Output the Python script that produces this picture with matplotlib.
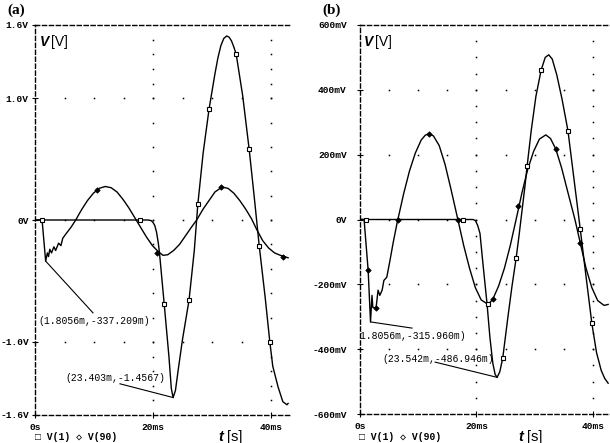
import matplotlib
matplotlib.use('Agg')
import matplotlib.pyplot as plt
import numpy as np

# ---------------- data (time in ms, voltage in V for (a), mV for (b)) -------------
# Panel (a)
t_v1_a = [0, 17.8, 19.2, 19.7, 20.0, 20.3, 20.6, 20.9, 21.1, 21.9, 22.7, 23.1, 23.403, 23.8,
          24.3, 25.0, 26.1, 27.0, 27.6, 28.5, 29.5, 30.5, 31.0, 31.5, 32.0, 32.5, 32.9, 33.3,
          33.7, 34.1, 35.2, 36.3, 37.2, 38.0, 39.0, 39.8, 40.3, 41.2, 42.0, 42.7, 42.9]
v_v1_a = [0, 0, 0, -0.005, -0.02, -0.045, -0.10, -0.19, -0.27, -0.69, -1.12, -1.38, -1.4567,
          -1.40, -1.22, -0.98, -0.66, -0.25, 0.13, 0.55, 0.91, 1.20, 1.33, 1.43, 1.49, 1.51,
          1.50, 1.47, 1.42, 1.36, 1.02, 0.58, 0.17, -0.21, -0.63, -1.0, -1.2, -1.37, -1.49,
          -1.516, -1.505]
t_v90_a = [0, 1.2, 1.8056, 2.1, 2.3, 2.5, 2.8, 3.2, 3.5, 4.0, 4.4, 4.7, 5.3, 6.1, 6.9,
           7.9, 8.9, 9.9, 10.9, 11.9, 12.9, 13.9, 14.9, 15.9, 16.9, 17.9, 18.9, 19.9,
           20.9, 21.7, 22.5, 23.5, 24.5, 25.5, 26.5, 27.4, 28.5, 29.5, 30.5, 31.7, 32.7,
           33.7, 34.7, 35.7, 36.7, 37.6, 38.6, 39.6, 40.6, 41.6, 42.9]
v_v90_a = [0, 0, -0.337209, -0.27, -0.30, -0.24, -0.27, -0.22, -0.25, -0.19, -0.21, -0.15,
           -0.11, -0.06, 0.0, 0.085, 0.16, 0.22, 0.26, 0.275, 0.265, 0.23, 0.17, 0.10, 0.02,
           -0.06, -0.14, -0.21, -0.26, -0.29, -0.285, -0.25, -0.20, -0.13, -0.06, 0.0, 0.09,
           0.16, 0.23, 0.27, 0.26, 0.22, 0.16, 0.09, 0.01, -0.08, -0.17, -0.23, -0.27, -0.29,
           -0.31]
mk_v1_a_t = [1.2, 17.8, 21.9, 26.1, 27.6, 29.5, 34.1, 36.3, 38.0, 39.8]
mk_v1_a_v = [0, 0, -0.69, -0.66, 0.13, 0.91, 1.36, 0.58, -0.21, -1.0]
mk_v90_a_t = [10.5, 20.7, 31.5, 42.0]
mk_v90_a_v = [0.245, -0.27, 0.27, -0.30]

# Panel (b)
t_v1_b = [0, 19.4, 19.8, 20.2, 20.6, 21.1, 21.8, 22.3, 22.8, 23.2, 23.542, 24.0, 24.5, 25.4,
          26.1, 26.8, 27.3, 27.8, 28.3, 28.7, 29.4, 30.2, 31.1, 31.8, 32.4, 33.0, 33.8, 34.7,
          35.7, 36.7, 37.8, 38.8, 39.8, 40.6, 41.4, 42.0, 42.6]
v_v1_b = [0, 0, -3, -18, -43, -135, -258, -363, -443, -478, -486.946, -470, -428, -300,
          -205, -120, -50, 25, 100, 166, 275, 380, 461, 500, 508, 495, 445, 370,
          274, 130, -28, -175, -320, -410, -465, -490, -505]
t_v90_b = [0, 0.7, 1.4, 1.8056, 2.06, 2.2, 2.75, 3.1, 3.4, 3.8, 4.1, 4.6, 5.15, 5.7, 6.35,
           6.5, 7.5, 8.5, 9.5, 10.5, 11.2, 11.85, 12.6, 13.6, 14.6, 15.6, 16.8, 17.8, 18.8,
           19.8, 20.8, 22.0, 22.8, 23.8, 24.8, 25.8, 26.8, 27.8, 28.8, 29.8, 30.8, 31.9,
           32.7, 33.6, 34.6, 35.6, 36.9, 37.8, 38.8, 39.8, 40.8, 41.9, 42.6]
v_v90_b = [0, 0, -157, -315.96, -234, -271, -274, -218, -234, -218, -188, -178, -126, -71,
           -12, 0, 80, 150, 205, 245, 260, 265, 258, 228, 170, 95, 0, -80, -150, -210, -248,
           -262, -246, -205, -150, -80, 0, 82, 155, 210, 248, 261, 250, 218, 160, 90, 0,
           -71, -150, -210, -250, -265, -262]
mk_v1_b_t = [1.0, 17.7, 22.0, 24.5, 26.8, 28.7, 31.1, 35.7, 37.8, 39.8]
mk_v1_b_v = [0, 0, -262, -428, -120, 166, 461, 274, -28, -320]
mk_v90_b_t = [1.4, 2.75, 6.5, 11.85, 16.8, 22.8, 27.1, 33.6, 37.8]
mk_v90_b_v = [-157, -274, 0, 265, 0, -246, 43, 218, -71]

x_ticks = [0, 20, 40]
x_labels = ['0s', '20ms', '40ms']
y_ticks_a = [1.6, 1.0, 0, -1.0, -1.6]
y_labels_a = ['1.6V', '1.0V', '0V', '-1.0V', '-1.6V']
y_ticks_b = [600, 400, 200, 0, -200, -400, -600]
y_labels_b = ['600mV', '400mV', '200mV', '0V', '-200mV', '-400mV', '-600mV']

ann_a = [((1.8056, -0.337209), '(1.8056m,-337.209m)'),
         ((23.403, -1.4567), '(23.403m,-1.4567)')]
ann_b = [((1.8056, -315.96), '(1.8056m,-315.960m)'),
         ((23.542, -486.946), '(23.542m,-486.946m)')]

# ---------------- figure -----------------------------------------------------------
W, H = 610, 443
fig = plt.figure(figsize=(W / 100, H / 100), dpi=100)
MONO = ['Liberation Mono', 'DejaVu Sans Mono']
SANS = ['Liberation Sans', 'DejaVu Sans']
SERIF = ['Liberation Serif', 'DejaVu Serif']


def fx(x):
    return x / W


def fy(y):
    return 1 - y / H


def make_axes(l, r, t, b):
    return fig.add_axes([fx(l), fy(b), fx(r) - fx(l), fy(t) - fy(b)])


def style(ax, xlim, ylim, yt, yl, ypad):
    ax.set_xlim(*xlim)
    ax.set_ylim(*ylim)
    ax.set_facecolor('white')
    ax.spines['right'].set_visible(False)
    for s in ['left', 'top', 'bottom']:
        ax.spines[s].set_linestyle((0, (3, 2)))
        ax.spines[s].set_linewidth(1.0)
        ax.spines[s].set_color('black')
    ax.set_xticks(x_ticks)
    ax.set_xticklabels(x_labels)
    ax.set_yticks(yt)
    ax.set_yticklabels(yl)
    ax.tick_params(direction='inout', length=5, width=0.8, labelsize=6.8)
    ax.tick_params(axis='y', pad=ypad)
    ax.tick_params(axis='x', pad=3)
    for lab in ax.get_xticklabels() + ax.get_yticklabels():
        lab.set_fontfamily(MONO)
        lab.set_fontweight('bold')


def grid_dots(ax, rows, cols, col_levels, xmax):
    xs = np.arange(5, xmax, 5)
    for r in rows:
        ax.plot(xs, np.full_like(xs, r, dtype=float), ls='none', marker='s', ms=1.1,
                color='black', mew=0, clip_on=False)
    for c in cols:
        ax.plot(np.full(len(col_levels), c), col_levels, ls='none', marker='s', ms=1.1,
                color='black', mew=0, clip_on=False)


def curves(ax, t1, v1, t90, v90, m1t, m1v, m90t, m90v):
    ax.plot(t1, v1, color='black', lw=1.0, solid_joinstyle='round')
    ax.plot(t90, v90, color='black', lw=1.0, solid_joinstyle='round')
    ax.plot(m1t, m1v, ls='none', marker='s', ms=3.5, mfc='white', mec='black', mew=0.8)
    ax.plot(m90t, m90v, ls='none', marker='D', ms=2.8, mfc='black', mec='black', mew=0.5)


# Panel (a)
ax1 = make_axes(35, 290, 25, 415)
style(ax1, (0, 43.22), (-1.6, 1.6), y_ticks_a, y_labels_a, 2)
col_a = np.concatenate([np.arange(-1.48, -1.0, 0.12), np.arange(-1.0, 1.01, 0.2),
                        np.arange(1.12, 1.55, 0.12)])
grid_dots(ax1, [1.0, 0.0, -1.0], [20, 40], col_a, 43)
curves(ax1, t_v1_a, v_v1_a, t_v90_a, v_v90_a, mk_v1_a_t, mk_v1_a_v, mk_v90_a_t, mk_v90_a_v)
# annotations (a)
(p, s) = ann_a[0]
ax1.plot([p[0], 9.83], [p[1], -0.762], color='black', lw=0.8)
ax1.text(0.51, -0.828, s, fontfamily=MONO, fontsize=7, va='center', ha='left')
(p, s) = ann_a[1]
ax1.plot([14.4, p[0]], [-1.344, p[1]], color='black', lw=0.8)
ax1.text(5.08, -1.295, s, fontfamily=MONO, fontsize=7, va='center', ha='left')

# Panel (b)
ax2 = make_axes(360, 610, 25, 414)
style(ax2, (0, 42.92), (-600, 600), y_ticks_b, y_labels_b, 7)
col_b = np.arange(-550, 551, 50)
grid_dots(ax2, [400, 200, 0, -200, -400], [20, 40], col_b, 42.5)
curves(ax2, t_v1_b, v_v1_b, t_v90_b, v_v90_b, mk_v1_b_t, mk_v1_b_v, mk_v90_b_t, mk_v90_b_v)
(p, s) = ann_b[0]
ax2.plot([p[0], 8.93], [p[1], -335], color='black', lw=0.8)
ax2.text(-0.95, -360, s, fontfamily=MONO, fontsize=7, va='center', ha='left', clip_on=True)
(p, s) = ann_b[1]
ax2.plot([12.9, p[0]], [-440, p[1]], color='black', lw=0.8)
ax2.text(3.78, -431, s, fontfamily=MONO, fontsize=7, va='center', ha='left')

# ---------------- labels ------------------------------------------------------------
for (x, lab) in [(7, '(a)'), (322, '(b)')]:
    fig.text(fx(x), fy(10), lab, fontfamily=SERIF, fontweight='bold', fontsize=11,
             va='center', ha='left')
for x in [40, 364]:
    fig.text(fx(x), fy(42), 'V', fontfamily=SANS, fontweight='bold', fontstyle='italic',
             fontsize=10, va='center', ha='left')
    fig.text(fx(x + 11), fy(42), '[V]', fontfamily=SANS, fontsize=10, va='center', ha='left')
for x in [218, 518]:
    fig.text(fx(x), fy(437), 't', fontfamily=SANS, fontweight='bold', fontstyle='italic',
             fontsize=10.5, va='center', ha='left')
    fig.text(fx(x + 9), fy(437), '[s]', fontfamily=SANS, fontsize=10.5, va='center', ha='left')
for x in [35, 359]:
    fig.text(fx(x), fy(437), '\u25a1 V(1) \u25c7 V(90)', fontfamily=MONO, fontweight='bold',
             fontsize=7, va='center', ha='left')

fig.savefig('out.png', dpi=100)
